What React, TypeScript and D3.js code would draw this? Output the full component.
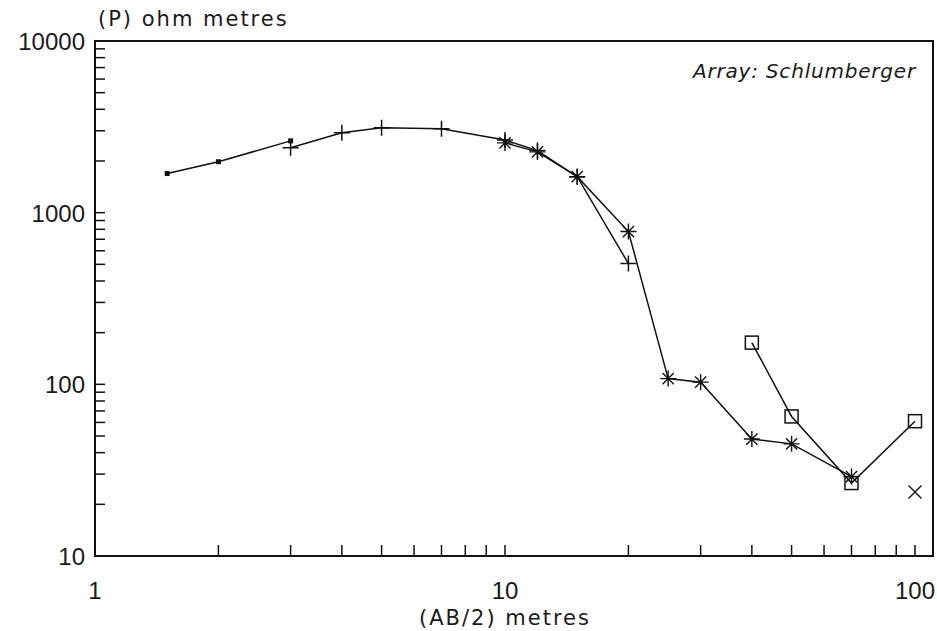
import React from 'react';
import * as d3 from 'd3';

// sounding curves
const dotX = [1.5, 2, 3];
const dotY = [1690, 1980, 2620];
const plusX = [3, 4, 5, 7, 10, 12, 15, 20];
const plusY = [2390, 2920, 3120, 3080, 2650, 2300, 1620, 505];
const starX = [10, 12, 15, 20, 25, 30, 40, 50, 70];
const starY = [2550, 2260, 1620, 776, 108, 103, 48, 45, 29];
const squareX = [40, 50, 70, 100];
const squareY = [175, 65, 26.6, 61];
const crossX = [100];
const crossY = [23.6];

const xTickLabels = [1, 10, 100];
const yTickLabels = [10, 100, 1000, 10000];
const xMinor = [2, 3, 4, 5, 6, 7, 8, 9, 10, 20, 30, 40, 50, 60, 70, 80, 90, 100];
const yMinor = [20, 30, 40, 50, 60, 70, 80, 90, 100, 200, 300, 400, 500, 600, 700, 800, 900, 1000,
  2000, 3000, 4000, 5000, 6000, 7000, 8000, 9000];

const W = 937;
const H = 631;
const left = 95, right = 933, top = 41, bottom = 556;
const numFont = '"Liberation Sans", "DejaVu Sans", sans-serif';
const textFont = '"DejaVu Sans", sans-serif';

const x = d3.scaleLog().domain([1, 100]).range([left, 915]);
const y = d3.scaleLog().domain([10, 10000]).range([bottom, top]);

const zip = (xs: number[], ys: number[]) => xs.map((v, i) => [v, ys[i]] as [number, number]);
const line = d3.line<[number, number]>().x(d => x(d[0])).y(d => y(d[1]));

const Marker = ({ kind, cx, cy }: { kind: string; cx: number; cy: number }) => {
  const s = 8;
  if (kind === 'dot') return <rect x={cx - 2.5} y={cy - 2.5} width={5} height={5} fill="#111" />;
  if (kind === 'plus')
    return <path d={`M${cx - s},${cy}H${cx + s}M${cx},${cy - s}V${cy + s}`} stroke="#111" strokeWidth={1.5} />;
  if (kind === 'star') {
    const d = s * 0.7;
    return (
      <path
        d={`M${cx - s},${cy}H${cx + s}M${cx},${cy - s}V${cy + s}M${cx - d},${cy - d}L${cx + d},${cy + d}M${cx - d},${cy + d}L${cx + d},${cy - d}`}
        stroke="#111" strokeWidth={1.4} />
    );
  }
  if (kind === 'square')
    return <rect x={cx - 6.5} y={cy - 6.5} width={13} height={13} fill="none" stroke="#111" strokeWidth={1.5} />;
  const c = 6.5;
  return <path d={`M${cx - c},${cy - c}L${cx + c},${cy + c}M${cx - c},${cy + c}L${cx + c},${cy - c}`} stroke="#111" strokeWidth={1.4} />;
};

const series = [
  { kind: 'dot', pts: zip(dotX, dotY), joined: true },
  { kind: 'plus', pts: zip(plusX, plusY), joined: true },
  { kind: 'star', pts: zip(starX, starY), joined: true },
  { kind: 'square', pts: zip(squareX, squareY), joined: true },
  { kind: 'cross', pts: zip(crossX, crossY), joined: false },
];

export default function App() {
  return (
    <svg width={W} height={H} style={{ position: 'absolute', left: 0, top: 0, background: '#fff' }}>
      <rect width={W} height={H} fill="#fff" />
      <g fill="#1a1a1a">
        <text x={98} y={26} fontSize={21} fontFamily={textFont} letterSpacing={2}>(P) ohm metres</text>
        <text x={916} y={78} fontSize={20} fontFamily={textFont} fontStyle="italic" textAnchor="end" letterSpacing={0.8}>
          Array: Schlumberger
        </text>
        <text x={505} y={625} fontSize={21} fontFamily={textFont} textAnchor="middle" letterSpacing={2}>(AB/2) metres</text>
        {yTickLabels.map(v => (
          <text key={v} x={85} y={y(v) + 9} fontSize={24} fontFamily={numFont} textAnchor="end">{v}</text>
        ))}
        {xTickLabels.map(v => (
          <text key={v} x={x(v)} y={599} fontSize={24} fontFamily={numFont} textAnchor="middle">{v}</text>
        ))}
      </g>
      <g stroke="#111" strokeWidth={1.5}>
        {xMinor.map(v => <line key={v} x1={x(v)} x2={x(v)} y1={bottom} y2={bottom - 11} />)}
        {yMinor.map(v => <line key={v} x1={left} x2={left + 10} y1={y(v)} y2={y(v)} />)}
      </g>
      <rect x={left} y={top} width={right - left} height={bottom - top} fill="none" stroke="#111" strokeWidth={2} />
      {series.map(s => (
        <g key={s.kind}>
          {s.joined && <path d={line(s.pts) || ''} fill="none" stroke="#111" strokeWidth={1.5} />}
          {s.pts.map((p, i) => <Marker key={i} kind={s.kind} cx={x(p[0])} cy={y(p[1])} />)}
        </g>
      ))}
    </svg>
  );
}
